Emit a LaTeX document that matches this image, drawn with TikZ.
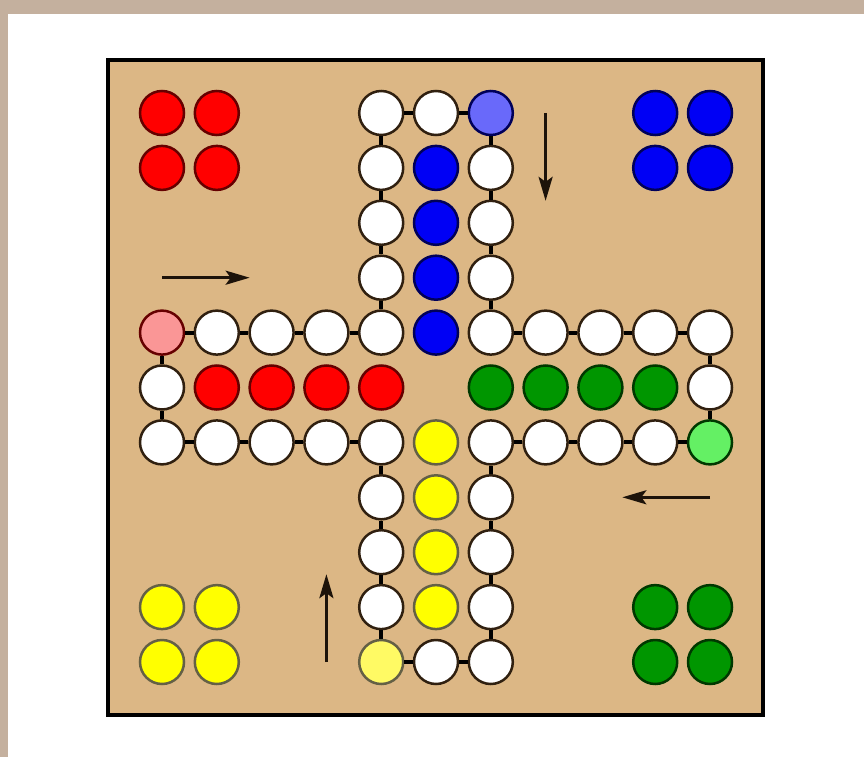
\documentclass[tikz,border=0pt]{standalone}
\usetikzlibrary{arrows.meta}

\definecolor{boardtan}{RGB}{220,183,133}
\definecolor{texture}{RGB}{196,176,158}
\definecolor{ludored}{RGB}{255,0,0}
\definecolor{ludoblue}{RGB}{0,0,245}
\definecolor{ludogreen}{RGB}{0,150,0}
\definecolor{ludoyellow}{RGB}{255,255,0}
\definecolor{startred}{RGB}{250,150,150}
\definecolor{startblue}{RGB}{105,105,250}
\definecolor{startgreen}{RGB}{100,240,100}
\definecolor{startyellow}{RGB}{255,250,100}

\begin{document}
\begin{tikzpicture}[
	x=1pt, y=-1pt,
	field/.style={ circle, draw=black!75!brown, fill=white, line width=2.5pt, inner sep=0pt, minimum size=44pt },
	redfield/.style={ field, draw=red!40!black, fill=ludored },
	bluefield/.style={ field, draw=blue!35!black, fill=ludoblue },
	greenfield/.style={ field, draw=green!22!black, fill=ludogreen },
	yellowfield/.style={ field, draw=yellow!30!black, fill=ludoyellow },
	link/.style={ line width=4pt, black },
	direction/.style={ line width=3pt, black!85!brown, -{Stealth[length=24pt,width=14pt,inset=5pt]} }
]
	\useasboundingbox (0,0) rectangle (864,757);
	\fill[texture] (0,0) rectangle (864,757);
	\fill[white] (8,14) rectangle (864,757);
	\draw[line width=4pt, fill=boardtan] (108,60) rectangle (763,715);

	\begin{scope}[xshift=162pt, yshift=-113pt, x=54.8pt, y=-54.9pt]
	% track
	\foreach \i/\j in {1/4,2/4,3/4,4/4,4/3,4/2,4/1,4/0,5/0,6/1,6/2,6/3,6/4,7/4,8/4,9/4,10/4,10/5,
		9/6,8/6,7/6,6/6,6/7,6/8,6/9,6/10,5/10,4/9,4/8,4/7,4/6,3/6,2/6,1/6,0/6,0/5} {
		\node[field] (f\i-\j) at (\i,\j) {};
	}
	\node[redfield, fill=startred] (f0-4) at (0,4) {};
	\node[bluefield, fill=startblue] (f6-0) at (6,0) {};
	\node[greenfield, fill=startgreen] (f10-6) at (10,6) {};
	\node[yellowfield, fill=startyellow] (f4-10) at (4,10) {};

	\foreach \c [remember=\c as \p (initially f0-5)] in {f0-4,f1-4,f2-4,f3-4,f4-4,f4-3,f4-2,f4-1,f4-0,
		f5-0,f6-0,f6-1,f6-2,f6-3,f6-4,f7-4,f8-4,f9-4,f10-4,f10-5,f10-6,f9-6,f8-6,f7-6,f6-6,f6-7,f6-8,
		f6-9,f6-10,f5-10,f4-10,f4-9,f4-8,f4-7,f4-6,f3-6,f2-6,f1-6,f0-6,f0-5} {
		\draw[link] (\p) -- (\c);
	}

	% home rows
	\foreach \k in {1,...,4} {
		\node[redfield] (rh\k) at (\k,5) {};
		\node[bluefield] (bh\k) at (5,\k) {};
		\node[greenfield] (gh\k) at (10-\k,5) {};
		\node[yellowfield] (yh\k) at (5,10-\k) {};
	}

	% waiting pieces
	\foreach \i in {0,1} {
		\foreach \j in {0,1} {
			\node[redfield] (rp\i\j) at (\i,\j) {};
			\node[bluefield] (bp\i\j) at (9+\i,\j) {};
			\node[yellowfield] (yp\i\j) at (\i,9+\j) {};
			\node[greenfield] (gp\i\j) at (9+\i,9+\j) {};
		}
	}

	% directions
	\coordinate (rfrom) at (0,3);    \coordinate (rto) at (1.6,3);
	\coordinate (bfrom) at (7,0);    \coordinate (bto) at (7,1.6);
	\coordinate (gfrom) at (10,7);   \coordinate (gto) at (8.4,7);
	\coordinate (yfrom) at (3,10);   \coordinate (yto) at (3,8.4);
	\foreach \s in {r,b,g,y} { \draw[direction] (\s from) -- (\s to); }
	\end{scope}
\end{tikzpicture}
\end{document}
